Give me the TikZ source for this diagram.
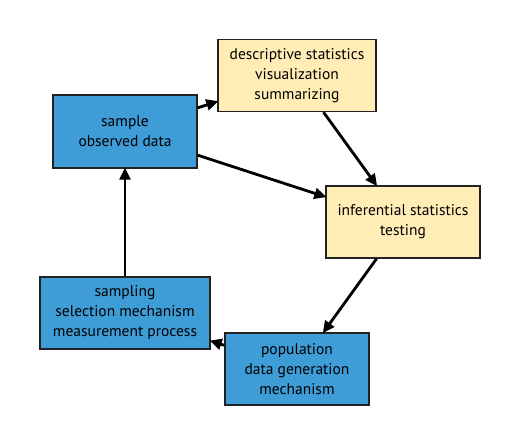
\documentclass[tikz,border=0pt]{standalone}
\usepackage{fontspec}
\setmainfont{PT Sans}
\usetikzlibrary{arrows.meta}
\definecolor{boxblue}{HTML}{3E9CD6}
\definecolor{boxyellow}{HTML}{FFEDB5}
\definecolor{boxline}{HTML}{222222}
\begin{document}
\begin{tikzpicture}[x=1pt,y=-1pt,
  box/.style={draw=boxline,line width=1.3pt,align=center,inner sep=0pt,
    font=\fontsize{15.5}{20}\selectfont,minimum height=72pt},
  bluebox/.style={box,fill=boxblue},
  yellowbox/.style={box,fill=boxyellow},
  conn/.style={line width=2.8pt,-{Triangle[length=12pt,width=11pt]},shorten >=-1pt}]
\useasboundingbox (0,0) rectangle (521,445);
\node[yellowbox,minimum width=158pt] (desc) at (297,75.5) {descriptive statistics\\visualization\\summarizing};
\node[bluebox,minimum width=144pt,minimum height=73pt] (sample) at (125,131.5) {sample\\observed data};
\node[yellowbox,minimum width=154pt] (inf) at (403,222) {inferential statistics\\testing};
\node[bluebox,minimum width=170pt] (sampling) at (125,313) {sampling\\selection mechanism\\measurement process};
\node[bluebox,minimum width=144pt] (pop) at (297,369) {population\\data generation\\mechanism};
\draw[conn] (sample) -- (desc);
\draw[conn] (sample) -- (inf);
\draw[conn] (desc) -- (inf);
\draw[conn] (inf) -- (pop);
\draw[conn] (pop) -- (sampling);
\draw[conn] (sampling) -- (sample);
\end{tikzpicture}
\end{document}
